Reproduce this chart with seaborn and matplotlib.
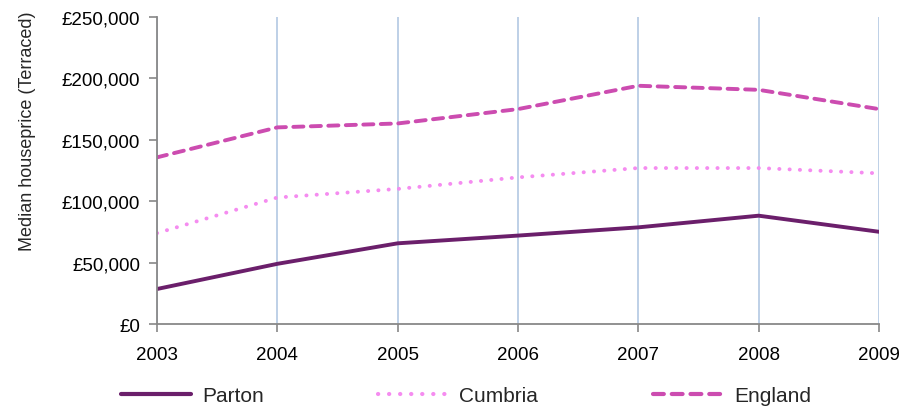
import pandas as pd
import matplotlib.pyplot as plt
import matplotlib.ticker as mticker
import seaborn as sns

years = [2003, 2004, 2005, 2006, 2007, 2008, 2009]
parton = [28500, 49000, 65700, 72000, 78700, 88200, 75100]
cumbria = [74000, 103000, 110000, 119400, 127000, 127000, 122700]
england = [135700, 160100, 163300, 175000, 194000, 190700, 175000]

areas = ['Parton', 'Cumbria', 'England']
colors = {'Parton': '#6B1F6B', 'Cumbria': '#F58CF0', 'England': '#CC4CB0'}
dashes = {'Parton': '', 'Cumbria': (0.05, 2.6), 'England': (2.6, 1.9)}

df = pd.DataFrame({'year': years * 3,
                   'price': parton + cumbria + england,
                   'area': [a for a in areas for _ in years]})

sns.set_style('white')
plt.rcParams['font.family'] = ['Liberation Sans', 'DejaVu Sans']

fig = plt.figure(figsize=(9.17, 4.14), dpi=100)
ax = fig.add_axes([157 / 917, 1 - 325 / 414, (879 - 157) / 917, (325 - 18) / 414])

sns.lineplot(data=df, x='year', y='price', hue='area', style='area',
             palette=colors, dashes=dashes, hue_order=areas, style_order=areas,
             linewidth=2.8, ax=ax, legend=False)
for line in ax.get_lines():
    line.set_dash_capstyle('round')

ax.set_xlim(2003, 2009)
ax.set_ylim(0, 250000)
ax.set_xticks(years)
ax.set_yticks(range(0, 250001, 50000))
ax.yaxis.set_major_formatter(mticker.FuncFormatter(lambda v, p: f'£{v:,.0f}'))
ax.xaxis.grid(True, color='#B9CDE5', linewidth=1.3)
ax.yaxis.grid(False)
ax.set_axisbelow(True)

for side in ['top', 'right']:
    ax.spines[side].set_visible(False)
for side in ['left', 'bottom']:
    ax.spines[side].set_color('#888888')
    ax.spines[side].set_linewidth(1.3)

ax.tick_params(axis='both', which='both', direction='out', length=6, width=1.2,
               color='#888888', labelsize=13.5, labelcolor='black')
ax.tick_params(axis='x', pad=10, bottom=True)
ax.tick_params(axis='y', pad=6, left=True)

ax.set_xlabel('')
ax.set_ylabel('Median houseprice (Terraced)', fontsize=13)
# label sits above the middle of the axis in the original
ax.yaxis.set_label_coords(-0.168, 0.632)

handles = []
for a in areas:
    h = plt.Line2D([], [], color=colors[a], linewidth=3, dash_capstyle='round')
    if dashes[a]:
        h.set_dashes(dashes[a])
    handles.append(h)
fig.legend(handles, areas, loc='center', bbox_to_anchor=(0.508, 1 - 397 / 414),
           ncol=3, frameon=False, fontsize=15, handlelength=3.4, handletextpad=0.5,
           columnspacing=5.5)

fig.savefig('out.png', dpi=100)
